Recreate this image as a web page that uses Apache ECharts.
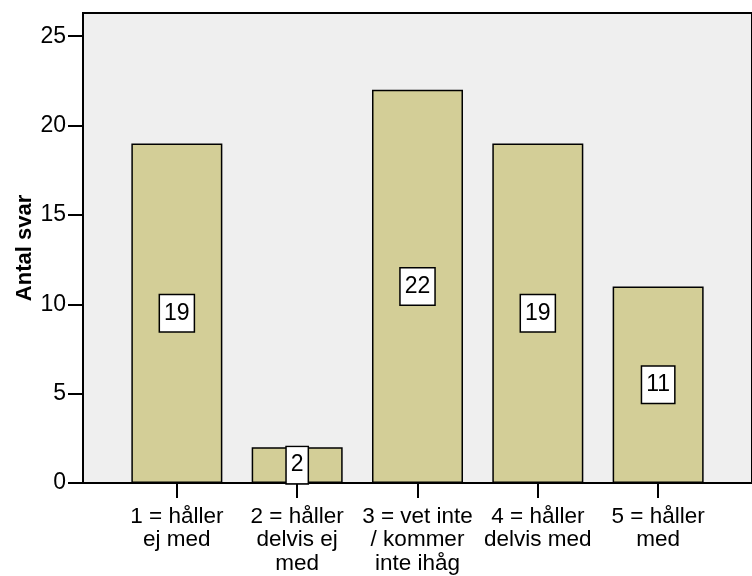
<!DOCTYPE html>
<html>
<head>
<meta charset="utf-8">
<script src="https://cdn.jsdelivr.net/npm/echarts@6/dist/echarts.min.js"></script>
<style>html,body{margin:0;padding:0;background:#fff}#c{width:752px;height:576px}</style>
</head>
<body>
<div id="c"></div>
<script>
var categories = ["1 = håller\nej med", "2 = håller\ndelvis ej\nmed", "3 = vet inte\n/ kommer\ninte ihåg", "4 = håller\ndelvis med", "5 = håller\nmed"];
var counts = [19, 2, 22, 19, 11];
var yTicks = [0, 5, 10, 15, 20, 25];
var yTitle = "Antal svar";

var positions = categories.map(function (_, i) { return i; });
var barData = counts.map(function (v, i) { return [i, v]; });
var font = "'Liberation Sans', Arial, sans-serif";

var chart = echarts.init(document.getElementById('c'), null, {renderer: 'canvas'});
chart.setOption({
  animation: false,
  grid: {left: 83, right: -7, top: 13, bottom: 93, show: true, backgroundColor: '#EFEFEF', borderColor: '#000', borderWidth: 2},
  xAxis: {
    type: 'value', min: -0.78, max: 4.78,
    splitLine: {show: false},
    axisLine: {show: true, onZero: false, lineStyle: {color: '#000', width: 2}},
    axisTick: {show: true, length: 15, lineStyle: {color: '#000', width: 2}, customValues: positions},
    axisLabel: {
      customValues: positions, margin: 22, color: '#000', fontFamily: font, fontSize: 22.5, lineHeight: 23.5,
      align: 'center',
      formatter: function (v) { return categories[Math.round(v)]; }
    }
  },
  yAxis: {
    type: 'value', min: 0, max: 26.3,
    name: yTitle, nameLocation: 'middle', nameGap: 47, nameRotate: 90, nameMoveOverlap: false,
    nameTextStyle: {color: '#000', fontFamily: font, fontSize: 22, fontWeight: 'bold'},
    splitLine: {show: false},
    axisLine: {show: true, onZero: false, lineStyle: {color: '#000', width: 2}},
    axisTick: {show: true, length: 15, lineStyle: {color: '#000', width: 2}, customValues: yTicks},
    axisLabel: {customValues: yTicks, margin: 17, color: '#000', fontFamily: font, fontSize: 23}
  },
  series: [{
    type: 'bar', data: barData, barWidth: 91,
    itemStyle: {color: '#D3CE97', borderColor: '#000', borderWidth: 1.5},
    label: {
      show: true, position: 'inside', color: '#000', fontFamily: font, fontSize: 23, lineHeight: 25,
      backgroundColor: '#fff', borderColor: '#000', borderWidth: 1.5, padding: [6, 4, 5, 4],
      formatter: function (p) { return String(p.value[1]); }
    }
  }]
});
</script>
</body>
</html>
